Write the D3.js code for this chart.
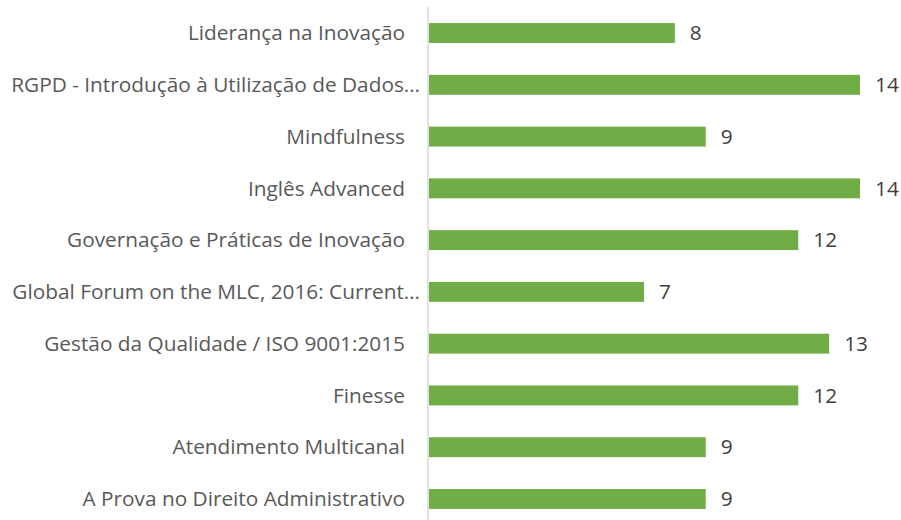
<!DOCTYPE html>
<html><head><meta charset="utf-8">
<script src="https://cdn.jsdelivr.net/npm/d3@7"></script>
<style>body{margin:0;background:#fff;}svg{display:block;}</style>
</head><body>
<svg id="c" width="901" height="520"></svg>
<script>
const categories = [
  "Liderança na Inovação",
  "RGPD - Introdução à Utilização de Dados…",
  "Mindfulness",
  "Inglês Advanced",
  "Governação e Práticas de Inovação",
  "Global Forum on the MLC, 2016: Current…",
  "Gestão da Qualidade / ISO 9001:2015",
  "Finesse",
  "Atendimento Multicanal",
  "A Prova no Direito Administrativo"
];
const values = [8, 14, 9, 14, 12, 7, 13, 12, 9, 9];

const svg = d3.select("#c");
const x0 = 428;
const x = d3.scaleLinear().domain([0, 14]).range([x0, 860]);
const y = d3.scaleBand().domain(categories).range([7, 525]).paddingInner(0.615).paddingOuter(0.31);

const font = "'Open Sans', sans-serif";

svg.selectAll("rect.bar").data(values).join("rect")
  .attr("class","bar")
  .attr("x", x(0)+1)
  .attr("y", (d,i)=>y(categories[i]))
  .attr("width", d=>x(d)-x(0)-1)
  .attr("height", y.bandwidth())
  .attr("fill", "#70AD47");

svg.append("line").attr("x1", x0).attr("x2", x0).attr("y1", 7).attr("y2", 520)
  .attr("stroke", "#d9d9d9").attr("stroke-width", 1.5);

svg.selectAll("text.cat").data(categories).join("text")
  .attr("class","cat")
  .attr("x", d => d.endsWith("…") ? 420 : 405)
  .attr("y", d=>y(d)+y.bandwidth()/2)
  .attr("dy", "0.35em")
  .attr("text-anchor","end")
  .attr("font-family", font)
  .attr("font-size", 20.8)
  .attr("fill", "#595959")
  .text(d=>d);

svg.selectAll("text.val").data(values).join("text")
  .attr("class","val")
  .attr("x", d=>x(d)+15)
  .attr("y", (d,i)=>y(categories[i])+y.bandwidth()/2)
  .attr("dy", "0.35em")
  .attr("font-family", font)
  .attr("font-size", 20.8)
  .attr("fill", "#404040")
  .text(d=>d);
</script>
</body></html>
